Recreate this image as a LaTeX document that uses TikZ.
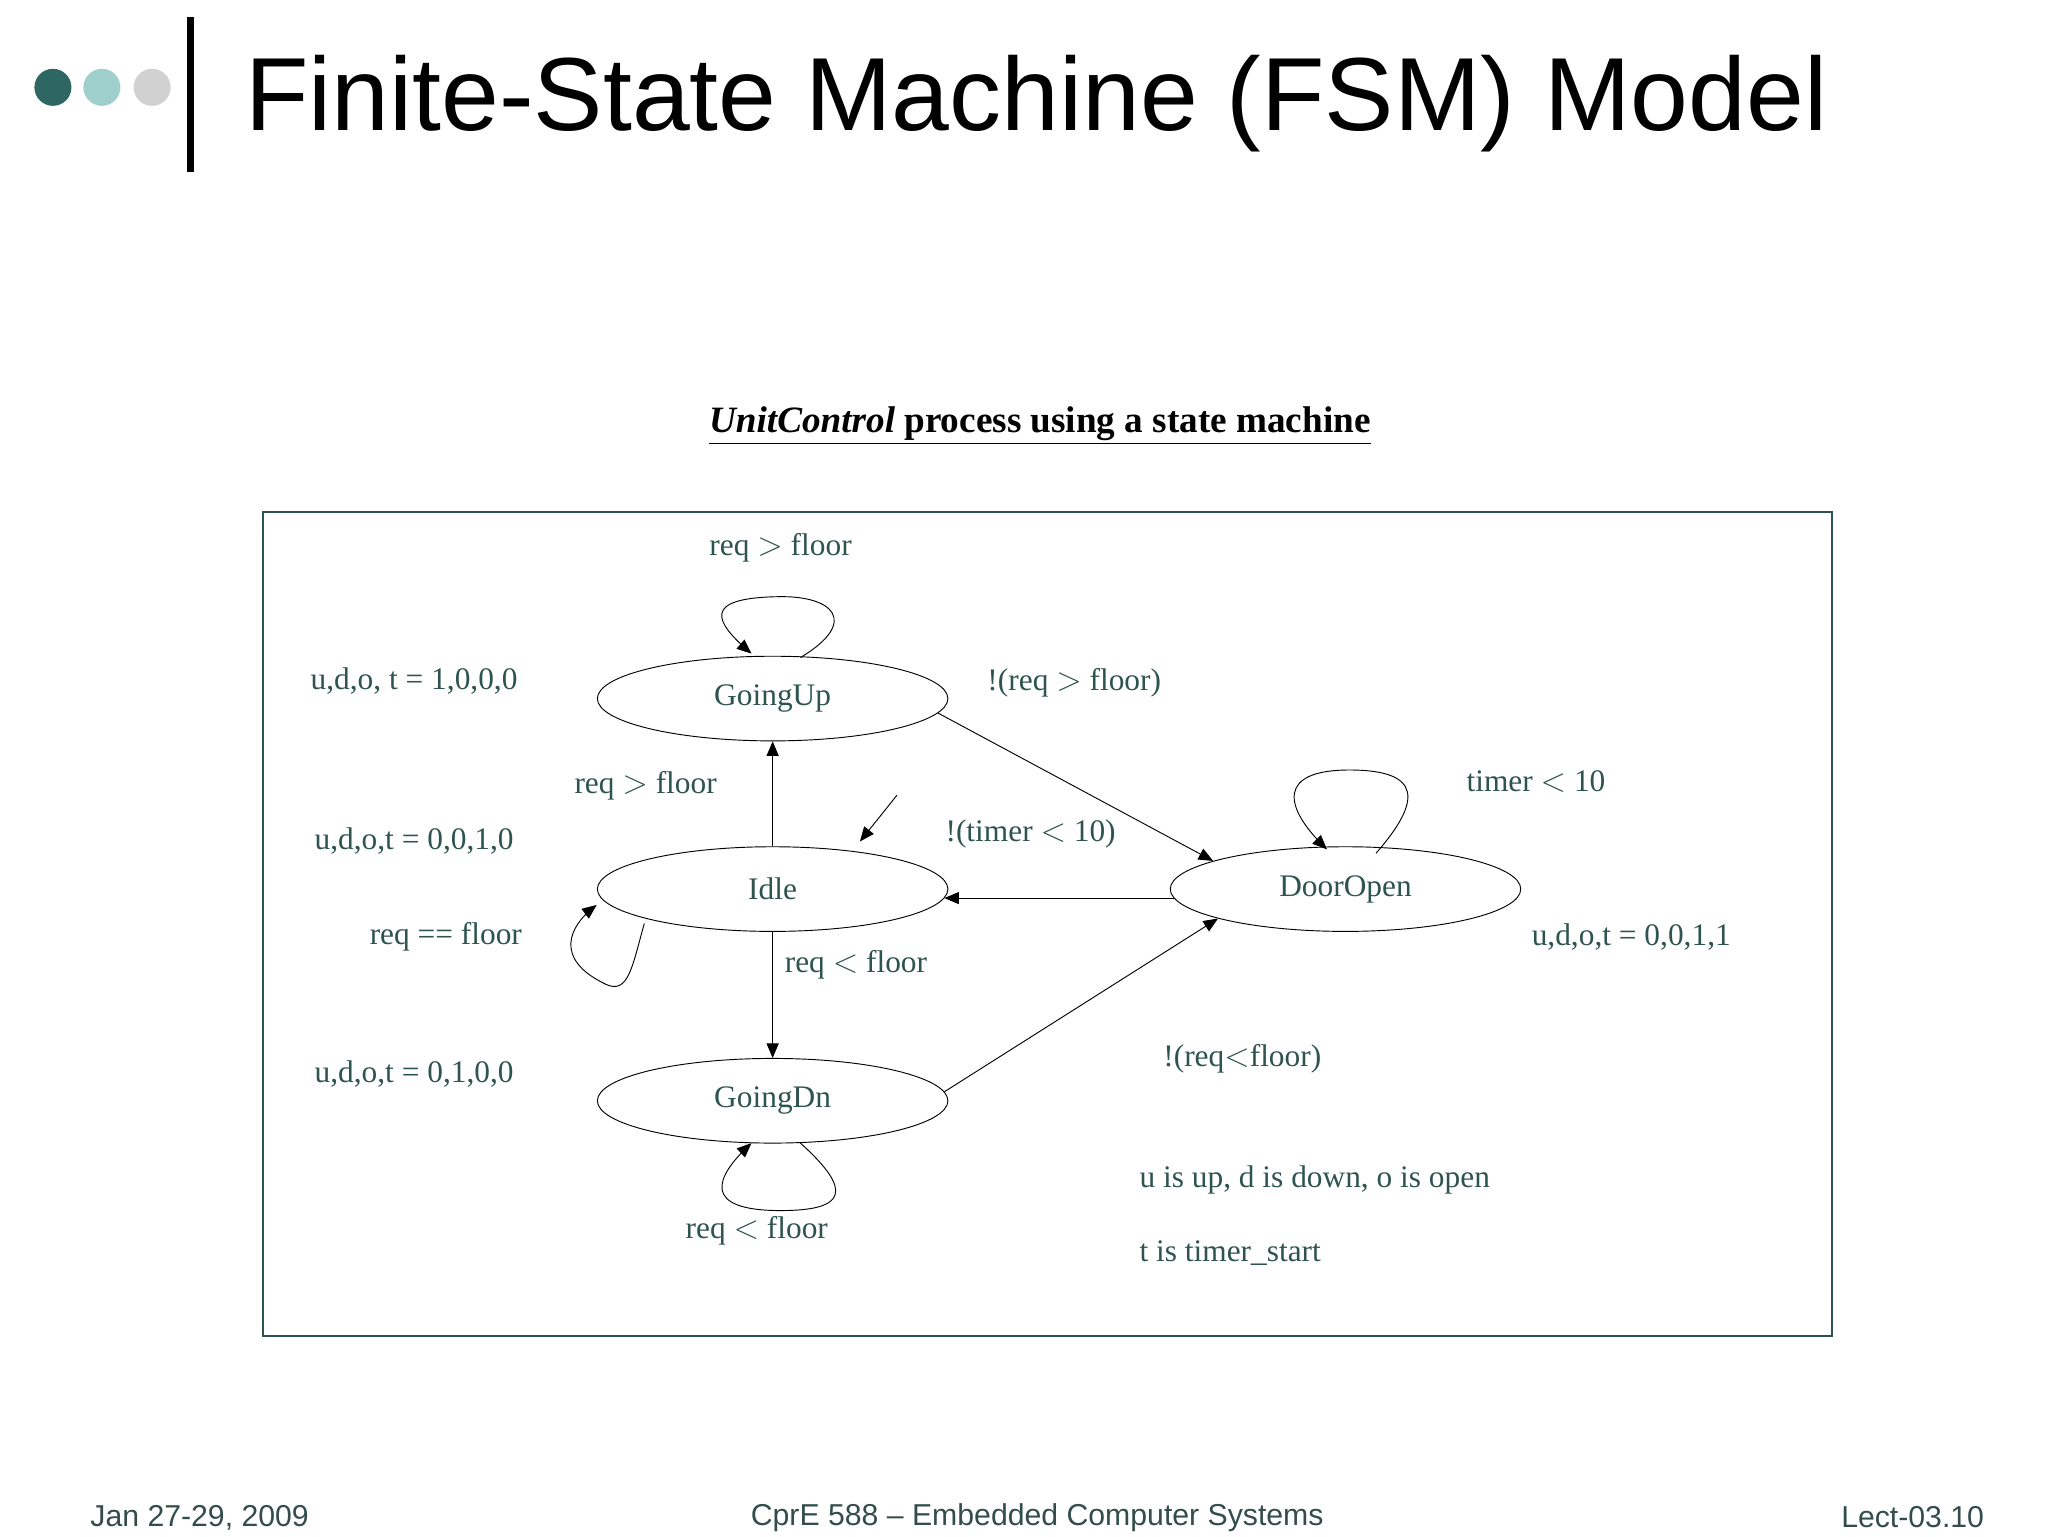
\documentclass[tikz,border=0pt]{standalone}
\usepackage{fontspec}
\setmainfont{Liberation Serif}
\newfontfamily\sansf{Liberation Sans}
\usetikzlibrary{shapes.geometric,arrows}
\definecolor{tealtxt}{rgb}{0.18,0.33,0.31}
\definecolor{dotA}{rgb}{0.18,0.40,0.39}
\definecolor{dotB}{rgb}{0.62,0.81,0.80}
\definecolor{dotC}{rgb}{0.82,0.82,0.82}
\definecolor{footc}{rgb}{0.20,0.30,0.30}

\begin{document}
\begin{tikzpicture}[x=0.02cm,y=-0.02cm,>=triangle 45,
  state/.style={draw,ellipse,minimum width=5.3cm,minimum height=1.28cm,inner sep=0pt,font=\fontsize{13.5}{16}\selectfont,text=tealtxt},
  lbl/.style={font=\fontsize{13.5}{16}\selectfont,text=tealtxt,inner sep=0pt},
  foot/.style={font=\sansf\fontsize{13}{16}\selectfont,text=footc,inner sep=0pt}]
\useasboundingbox (0,0) rectangle (1548,1161);

% header
\fill[dotA] (40,66) circle (14);
\fill[dotB] (77,66) circle (14);
\fill[dotC] (115,66) circle (14);
\fill[black] (141,13) rectangle (147,130);
\node[anchor=west,inner sep=0pt,font=\sansf\fontsize{44.7}{52}\selectfont] (title) at (185,78) {Finite-State Machine (FSM) Model};

\node[inner sep=0pt,font=\fontsize{16}{19}\selectfont\bfseries] (sub) at (786,322) {\underline{\textit{UnitControl} process using a state machine}};
\draw[tealtxt,line width=0.8pt] (199,387) rectangle (1385,1010);

% states
\node[state] (up) at (584,528) {GoingUp};
\node[state] (idle) at (584,672) {Idle};
\node[state] (door) at (1017,672) {DoorOpen};
\node[state] (dn) at (584,832) {GoingDn};
\coordinate (st) at (678,601);
\coordinate (sti) at (650,636);

% transitions
\draw[->] (idle) -- (up);
\draw[->] (idle) -- (dn);
\draw[->] (up.-5) -- (door.168);
\draw[->] (door.183) -- (idle.-3);
\draw[->] (dn.3) -- (door.193);
\draw[->] (st) -- (sti);
\draw[->] (605,497) .. controls (650,470) and (630,450) .. (588,451) .. controls (530,452) and (540,470) .. (568,494);
\draw[->] (1040,645) .. controls (1075,605) and (1075,582) .. (1020,582) .. controls (965,582) and (970,610) .. (1003,642);
\draw[->] (487,698) .. controls (478,730) and (475,752) .. (458,744) .. controls (418,725) and (430,700) .. (451,684);
\draw[->] (605,864) .. controls (645,900) and (640,915) .. (590,915) .. controls (530,915) and (540,890) .. (568,864);

% labels
\node[lbl] (l1) at (590,414) {req $>$ floor};
\node[lbl] (l2) at (313,515) {u,d,o, t = 1,0,0,0};
\node[lbl] (l3) at (812,516) {!(req $>$ floor)};
\node[lbl] (l4) at (488,594) {req $>$ floor};
\node[lbl] (l5) at (1161,591) {timer $<$ 10};
\node[lbl] (l6) at (313,636) {u,d,o,t = 0,0,1,0};
\node[lbl] (l7) at (779,630) {!(timer $<$ 10)};
\node[lbl] (l8) at (337,708) {req == floor};
\node[lbl] (l9) at (1233,708) {u,d,o,t = 0,0,1,1};
\node[lbl] (l10) at (647,729) {req $<$ floor};
\node[lbl] (l11) at (939,800) {!(req$<$floor)};
\node[lbl] (l12) at (313,812) {u,d,o,t = 0,1,0,0};
\node[lbl,anchor=west] (l13) at (861,892) {u is up, d is down, o is open};
\node[lbl] (l14) at (572,930) {req $<$ floor};
\node[lbl,anchor=west] (l15) at (861,947) {t is timer\_start};

% footer
\node[foot,anchor=west] (f1) at (68,1147) {Jan 27-29, 2009};
\node[foot] (f2) at (784,1147) {CprE 588 – Embedded Computer Systems};
\node[foot,anchor=east] (f3) at (1500,1147) {Lect-03.10};
\end{tikzpicture}
\end{document}
